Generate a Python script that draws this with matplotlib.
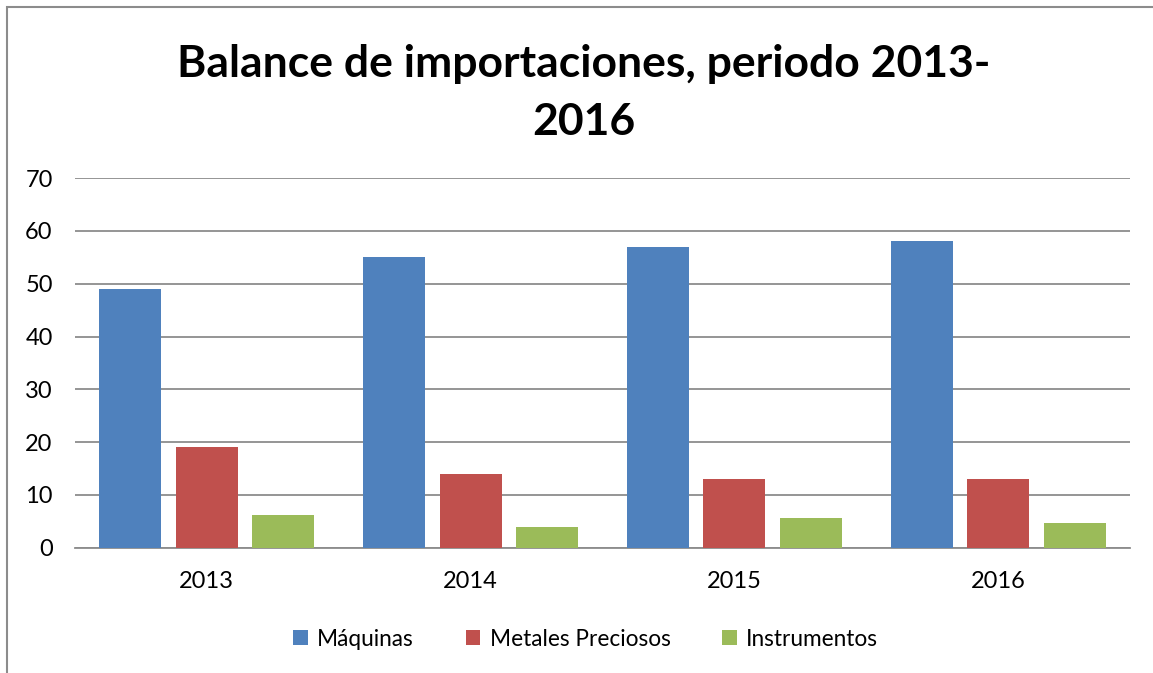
import matplotlib.pyplot as plt
import numpy as np
from matplotlib.patches import Rectangle

years = ['2013', '2014', '2015', '2016']
maquinas = [49, 55, 57, 58]
metales = [19, 14, 13, 13]
instrumentos = [6.3, 4, 5.7, 4.7]

plt.rcParams['font.family'] = ['Lato', 'DejaVu Sans']

fig = plt.figure(figsize=(11.53, 6.73), dpi=100)
ax = fig.add_axes([0.065, 0.186, 0.915, 0.5495])

x = np.arange(len(years))
w = 0.235
off = 0.29
ax.bar(x - off, maquinas, w, color='#4F81BD', label='Máquinas', zorder=3)
ax.bar(x, metales, w, color='#C0504D', label='Metales Preciosos', zorder=3)
ax.bar(x + off, instrumentos, w, color='#9BBB59', label='Instrumentos', zorder=3)

ax.set_xlim(-0.5, 3.5)
ax.set_ylim(0, 70)
ax.set_yticks(range(0, 71, 10))
ax.set_xticks(x)
ax.set_xticklabels(years)
ax.yaxis.grid(True, color='#8c8c8c', linewidth=1.3)
ax.set_axisbelow(True)
for s in ['top', 'right', 'left']:
    ax.spines[s].set_visible(False)
ax.spines['bottom'].set_color('#8c8c8c')
ax.spines['bottom'].set_linewidth(1.3)
ax.tick_params(length=0, labelsize=17)
ax.tick_params(axis='y', pad=16)
ax.tick_params(axis='x', pad=17)

fig.text(0.506, 0.862, 'Balance de importaciones, periodo 2013-\n2016',
         ha='center', va='center', fontsize=32, fontweight='bold',
         linespacing=1.55)

fig.legend(loc='center', bbox_to_anchor=(0.508, 0.05), ncol=3, frameon=False,
           fontsize=16.3, handlelength=0.65, handleheight=0.65,
           handletextpad=0.4, columnspacing=2.3)

fig.add_artist(Rectangle((0.006, -0.1), 1.2, 1.09, transform=fig.transFigure,
                         fill=False, edgecolor='#8c8c8c', linewidth=1.5))

fig.savefig('out.png')
